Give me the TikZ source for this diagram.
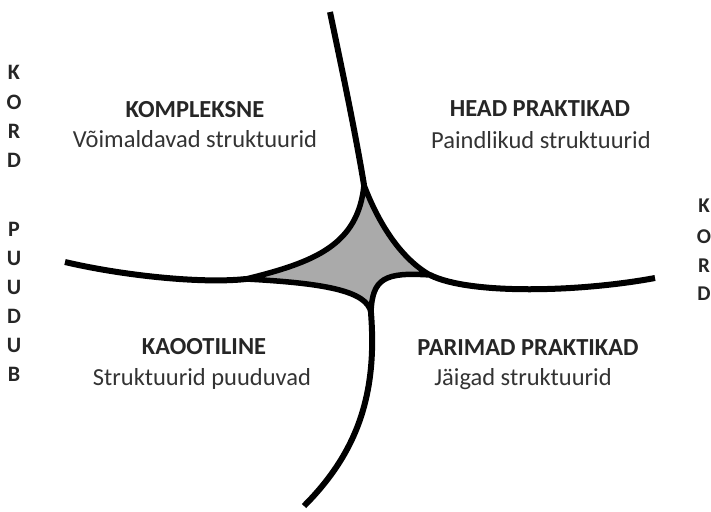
\documentclass[tikz,border=0pt]{standalone}
\usepackage{fontspec}
\setmainfont{Carlito}
\definecolor{txt}{HTML}{262626}
\definecolor{subtxt}{HTML}{333333}
\definecolor{core}{HTML}{AAAAAA}
\begin{document}
\begin{tikzpicture}[x=1pt,y=-1pt,
  head/.style={anchor=base,inner sep=0pt,text=txt,font=\fontsize{24.5}{28}\selectfont\bfseries},
  sub/.style={anchor=base,inner sep=0pt,text=subtxt,font=\fontsize{24.5}{28}\selectfont},
  lside/.style={anchor=base,inner sep=0pt,text=txt,font=\fontsize{22}{26}\selectfont\bfseries},
  rside/.style={anchor=base,inner sep=0pt,text=txt,font=\fontsize{21}{26}\selectfont\bfseries},
  arm/.style={line width=6pt,line cap=butt},
  corestyle/.style={fill=core,draw=black,line width=5.5pt,line join=round}]
\useasboundingbox (0,0) rectangle (711,511);
% central vertices
\coordinate (T) at (364,185);
\coordinate (L) at (246,279);
\coordinate (R) at (430,275);
\coordinate (B) at (371,313);
\coordinate (Tend) at (330,12);
\coordinate (Lend) at (65,262);
\coordinate (Rend) at (655,278);
\coordinate (Bend) at (304,506);
% arms
\draw[arm] (T) .. controls (355,130) and (340,60) .. (Tend);
\draw[arm] (L) .. controls (200,284) and (120,275) .. (Lend);
\draw[arm] (R) .. controls (470,295) and (580,292) .. (Rend);
\draw[arm] (B) .. controls (377,390) and (360,450) .. (Bend);
% central star
\draw[corestyle] (T) .. controls (378,222) and (400,258) .. (R)
  .. controls (385,272) and (372,278) .. (B)
  .. controls (368,290) and (320,283) .. (L)
  .. controls (315,262) and (358,245) .. (T) -- cycle;
% quadrant texts
\node[head] (kh) at (195,117) {KOMPLEKSNE};
\node[sub]  (ks) at (195,147) {Võimaldavad struktuurid};
\node[head] (hh) at (540,116) {HEAD PRAKTIKAD};
\node[sub]  (hs) at (541,148) {Paindlikud struktuurid};
\node[head] (ah) at (204,354) {KAOOTILINE};
\node[sub]  (as) at (202,385) {Struktuurid puuduvad};
\node[head] (ph) at (528,355) {PARIMAD PRAKTIKAD};
\node[sub]  (ps) at (523,385) {Jäigad struktuurid};
% left vertical letters
\node[lside] (l1) at (14,79) {K};
\node[lside] (l2) at (14,109) {O};
\node[lside] (l3) at (14,138) {R};
\node[lside] (l4) at (14,167) {D};
\node[lside] (l5) at (14,236) {P};
\node[lside] (l6) at (14,265.5) {U};
\node[lside] (l7) at (14,294.5) {U};
\node[lside] (l8) at (14,323.5) {D};
\node[lside] (l9) at (14,352.5) {U};
\node[lside] (l10) at (14,381.5) {B};
% right vertical letters
\node[rside] (r1) at (704,212) {K};
\node[rside] (r2) at (704,243) {O};
\node[rside] (r3) at (704,272) {R};
\node[rside] (r4) at (704,300) {D};
\end{tikzpicture}
\end{document}
